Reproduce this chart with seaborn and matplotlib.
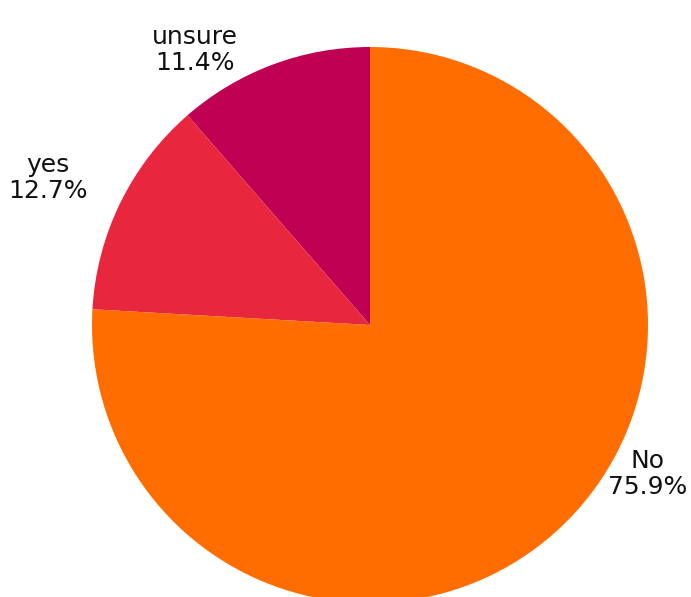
import matplotlib
matplotlib.use("Agg")
import matplotlib.pyplot as plt
import seaborn as sns

# Survey answers, in drawing order (counter-clockwise from 12 o'clock)
answers = ["unsure", "yes", "No"]
shares = [11.4, 12.7, 75.9]
slice_colors = ["#C00052", "#E8273F", "#FF6D00"]

sns.set_theme(style="white")
plt.rcParams["font.family"] = ["DejaVu Sans"]

W, H = 691, 597
fig = plt.figure(figsize=(W / 100, H / 100), dpi=100)
ax = fig.add_axes([0, 0, 1, 1])

centre = (370, H - 325)
radius = 278
ax.pie(
    shares,
    colors=slice_colors,
    startangle=90,
    counterclock=True,
    center=centre,
    radius=radius,
    wedgeprops=dict(linewidth=0),
    frame=True,
)
ax.set_xlim(0, W)
ax.set_ylim(0, H)
ax.set_aspect("equal")
ax.axis("off")

# label anchor points (pixel layout, y measured from top)
label_spots = {"unsure": (195, 50), "yes": (48, 178), "No": (648, 474)}
for name, val in zip(answers, shares):
    x, y = label_spots[name]
    ax.text(x, H - y, f"{name}\n{val:.1f}%", ha="center", va="center",
            fontsize=18, color="#111111", linespacing=1.15)

fig.savefig("out.png", dpi=100, facecolor="white")
